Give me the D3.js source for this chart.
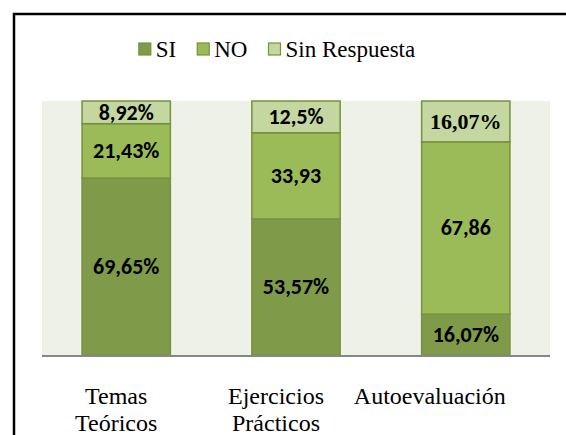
<!DOCTYPE html>
<html><head><meta charset="utf-8">
<script src="https://cdn.jsdelivr.net/npm/d3@7"></script></head>
<body style="margin:0">
<svg id="chart" width="566" height="435" style="display:block"></svg>
<script>
// Categories and stacked series (percentages per category)
const categories = ["Temas Teóricos", "Ejercicios Prácticos", "Autoevaluación"];
const categoryLines = [["Temas", "Teóricos"], ["Ejercicios", "Prácticos"], ["Autoevaluación"]];
const seriesNames = ["SI", "NO", "Sin Respuesta"];
const siValues = [69.65, 53.57, 16.07];
const noValues = [21.43, 33.93, 67.86];
const sinRespuestaValues = [8.92, 12.5, 16.07];
const siLabels = ["69,65%", "53,57%", "16,07%"];
const noLabels = ["21,43%", "33,93", "67,86"];
const sinRespuestaLabels = ["8,92%", "12,5%", "16,07%"];

const colors = { "SI": "#7f9a48", "NO": "#9bbb59", "Sin Respuesta": "#c4d7a0" };
const strokeColor = "#76923c";

const SERIF = '"Liberation Serif"';
const SANS = '"Carlito"';

const rows = categories.map((c, i) => ({
  category: c,
  "SI": siValues[i],
  "NO": noValues[i],
  "Sin Respuesta": sinRespuestaValues[i]
}));
const labelsBySeries = { "SI": siLabels, "NO": noLabels, "Sin Respuesta": sinRespuestaLabels };

const svg = d3.select("#chart");

// Outer chart frame (continues past the right and bottom edges)
svg.append("rect")
  .attr("x", 14).attr("y", 14)
  .attr("width", 700).attr("height", 600)
  .attr("fill", "#ffffff")
  .attr("stroke", "#000000")
  .attr("stroke-width", 2.5);

const plot = { left: 42, right: 550, top: 101, bottom: 355 };

// Plot area background
svg.append("rect")
  .attr("x", plot.left).attr("y", plot.top)
  .attr("width", plot.right - plot.left).attr("height", plot.bottom - plot.top)
  .attr("fill", "#eef1e8");

const x = d3.scaleBand()
  .domain(categories)
  .range([plot.left, plot.right])
  .paddingInner(0.48)
  .paddingOuter(0.236);

const y = d3.scaleLinear().domain([0, 100]).range([plot.bottom, plot.top]);

const stacked = d3.stack().keys(seriesNames)(rows);

stacked.forEach(layer => {
  layer.forEach((p, i) => {
    svg.append("rect")
      .attr("x", x(p.data.category))
      .attr("y", y(p[1]))
      .attr("width", x.bandwidth())
      .attr("height", y(p[0]) - y(p[1]))
      .attr("fill", colors[layer.key])
      .attr("stroke", strokeColor)
      .attr("stroke-width", 1.5);
  });
});

// Value labels centred in each segment
stacked.forEach(layer => {
  layer.forEach((p, i) => {
    const serifLabel = layer.key === "Sin Respuesta" && i === 2;
    svg.append("text")
      .attr("x", x(p.data.category) + x.bandwidth() / 2)
      .attr("y", (y(p[0]) + y(p[1])) / 2)
      .attr("dy", "0.34em")
      .attr("text-anchor", "middle")
      .style("font-family", serifLabel ? SERIF : SANS)
      .style("font-weight", "bold")
      .style("font-size", "22px")
      .text(labelsBySeries[layer.key][i]);
  });
});

// Baseline
svg.append("line")
  .attr("x1", plot.left).attr("x2", plot.right)
  .attr("y1", plot.bottom + 1).attr("y2", plot.bottom + 1)
  .attr("stroke", "#878787")
  .attr("stroke-width", 2);

// Category labels
const labelShift = [-10, -20, -36];
categories.forEach((c, i) => {
  const cx = x(c) + x.bandwidth() / 2 + labelShift[i];
  categoryLines[i].forEach((line, j) => {
    svg.append("text")
      .attr("x", cx).attr("y", 404 + j * 27)
      .attr("text-anchor", "middle")
      .style("font-family", SERIF)
      .style("font-size", "24px")
      .text(line);
  });
});

// Legend
const legend = svg.append("g");
let lx = 0;
seriesNames.forEach((name) => {
  legend.append("rect")
    .attr("x", lx).attr("y", -14)
    .attr("width", 12).attr("height", 12)
    .attr("fill", colors[name])
    .attr("stroke", strokeColor)
    .attr("stroke-width", 1.2);
  const txt = legend.append("text")
    .attr("x", lx + 17).attr("y", 0)
    .style("font-family", SERIF)
    .style("font-size", "23px")
    .text(name);
  lx += 17 + txt.node().getComputedTextLength() + 21;
});
const legendWidth = lx - 21;
legend.attr("transform", `translate(${277 - legendWidth / 2},57)`);
</script></body></html>
